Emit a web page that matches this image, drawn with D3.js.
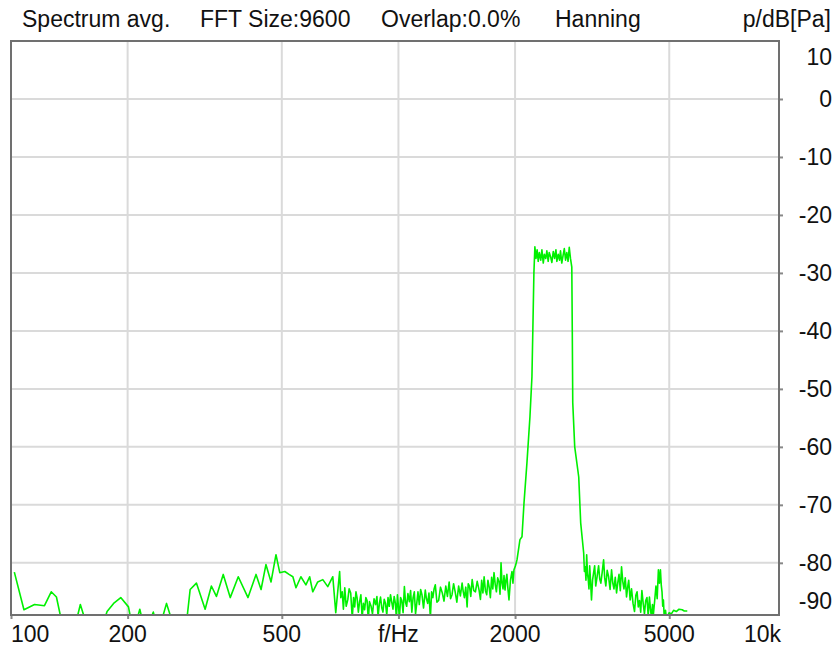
<!DOCTYPE html>
<html>
<head>
<meta charset="utf-8">
<script src="https://cdnjs.cloudflare.com/ajax/libs/d3/7.8.5/d3.min.js"></script>
<style>
	body { margin: 0; background: #fff; }
	svg { display: block; font-family: "Liberation Sans", Arial, sans-serif; }
	.grid line { stroke: #dadada; stroke-width: 2; }
	.lbl { font-size: 23px; fill: #111; }
</style>
</head>
<body>
<script>
// spectrum, [frequency in Hz, level in dB re Pa]
var lowRange = [[102, -81.6], [108, -88.1], [115, -87.2], [122, -87.4], [127, -85.0], [131, -85.9], [137, -92], [145, -92],
	[151, -87.2], [159, -92], [170, -92], [177, -88.4], [184, -87.0], [192, -86.0], [201, -87.6], [207, -92], [215, -88.0],
	[222, -92], [233, -88.5], [240, -92], [252, -87.0], [266, -92], [282, -92], [290, -84.6], [301, -83.5], [317, -88.0],
	[329, -84.0], [339, -85.8], [353, -82.0], [368, -86.0], [386, -82.4], [409, -86.0], [429, -82.0], [442, -84.6], [455, -80.3],
	[469, -83.3], [483, -78.6], [494, -81.7], [509, -81.5], [522, -82.0], [534, -82.4], [544, -84.3], [560, -82.4], [577, -83.8],
	[590, -82.4], [601, -85.0], [619, -83.3], [638, -82.9], [657, -84.1], [677, -82.4], [689, -88.6]];

var midRange = [[705, -81.5], [710, -86], [716, -85], [721, -88], [727, -84.3], [733, -87.5], [740, -86.4], [746, -84.5],
	[753, -85.2], [760, -89.5], [766, -86], [771, -87.6], [777, -85], [782, -86], [788, -88.5], [794, -86.7], [800, -85.5],
	[806, -89.5], [812, -87], [818, -88.1], [824, -86], [830, -86.5], [836, -89.8], [842, -86.7], [850, -87.5], [857, -88.8],
	[865, -86.2], [873, -87.2], [880, -85.8], [886, -89.3], [893, -87], [899, -85.9], [906, -87.8], [912, -88.5], [919, -86.3],
	[926, -87], [933, -89], [940, -86], [947, -87.5], [954, -85.5], [961, -86.8], [968, -88], [975, -85.8], [982, -87],
	[988, -89.6], [994, -85.5], [1000, -87.5], [1006, -89.5], [1013, -86], [1020, -86.5], [1028, -88.6], [1036, -84.1],
	[1043, -86.8], [1050, -87.5], [1058, -85.3], [1067, -86.7], [1075, -84.8], [1083, -88.5], [1091, -86], [1099, -85.0],
	[1107, -88.8], [1115, -87], [1123, -85], [1132, -87.2], [1141, -84.6], [1150, -85.5], [1161, -87.8], [1173, -84.7],
	[1181, -86.2], [1190, -87], [1199, -85.2], [1209, -89.5], [1218, -85], [1227, -86], [1236, -84.5], [1245, -83.8],
	[1257, -86.8], [1270, -86.5], [1284, -84.2], [1298, -85.2], [1311, -86.6], [1325, -84], [1338, -85.8], [1352, -83.3],
	[1363, -86.2], [1375, -85.5], [1388, -83.6], [1401, -85], [1415, -86.8], [1430, -84], [1445, -85.7], [1460, -83.5],
	[1470, -85], [1480, -86], [1492, -84.2], [1504, -87.6], [1514, -83.6], [1525, -84], [1537, -85.8], [1550, -82.9],
	[1565, -84.8], [1580, -85], [1597, -83.2], [1615, -84.7], [1628, -86.3], [1640, -83], [1652, -85.2], [1664, -82.4],
	[1677, -84.8], [1690, -85.5], [1702, -83], [1714, -84.1], [1727, -86], [1740, -82.5], [1752, -84.5], [1765, -81.7],
	[1778, -83.8], [1790, -85], [1804, -82.6], [1818, -83.3], [1829, -85.4], [1840, -80.0], [1851, -83.5], [1862, -84.5],
	[1873, -82.2], [1884, -84.7], [1895, -83], [1905, -82.0], [1917, -84.5], [1929, -86.4], [1946, -83], [1964, -81.5],
	[1975, -83.5], [1987, -81.2], [2005, -80.5], [2023, -79.5]];

var passBand = [[2059, -76.0], [2084, -75.5], [2109, -69.7], [2146, -62.8], [2185, -54.8], [2211, -47.9], [2223, -39.8],
	[2237, -30.0], [2250, -25.5], [2265, -27.5], [2280, -26.0], [2295, -28.0], [2310, -26.5], [2330, -27.8], [2346, -26.0],
	[2365, -28.3], [2380, -26.8], [2400, -27.5], [2416, -26.2], [2435, -28.0], [2450, -26.5], [2470, -27.2], [2489, -28.2],
	[2510, -26.3], [2530, -27.5], [2550, -26.0], [2564, -28.0], [2585, -26.8], [2605, -27.8], [2620, -26.2], [2640, -28.3],
	[2660, -27.0], [2680, -25.8], [2700, -27.8], [2720, -26.5], [2740, -28.0], [2760, -25.6], [2780, -27.5], [2802, -29.0],
	[2810, -39.8], [2818, -52.4], [2851, -60.0], [2920, -65.2], [2954, -73.1]];

var highRange = [[3007, -78.3], [3020, -81.5], [3035, -80.7], [3048, -83], [3061, -78.6], [3075, -81.8], [3090, -82.9],
	[3103, -84.5], [3116, -80.5], [3133, -83.2], [3150, -86.4], [3170, -83], [3190, -81.7], [3210, -80.5], [3230, -84],
	[3258, -82.3], [3286, -80.5], [3308, -82.8], [3330, -83.5], [3357, -81.6], [3385, -79.5], [3407, -82.6], [3430, -84],
	[3458, -81.3], [3487, -82.4], [3518, -84.6], [3549, -81.2], [3575, -83.5], [3600, -84.5], [3628, -82.5], [3656, -85.2],
	[3683, -83.4], [3710, -82], [3738, -84.8], [3766, -80.7], [3793, -83.2], [3820, -84.5], [3850, -82.6], [3879, -85.9],
	[3905, -84.2], [3930, -83], [3963, -86.4], [3996, -84.5], [4032, -87], [4068, -88.4], [4100, -85.6], [4130, -85],
	[4160, -87.6], [4190, -86.5], [4220, -88.5], [4250, -84.8], [4283, -87], [4315, -88.8], [4348, -86.5], [4380, -86],
	[4412, -89.2], [4445, -85.9], [4472, -88], [4500, -89.5], [4526, -87.2], [4552, -88.8], [4586, -86.5], [4620, -84],
	[4654, -86.2], [4688, -81.2], [4716, -83.5], [4745, -81.2], [4768, -83.8], [4790, -85], [4810, -87.5], [4830, -86.4],
	[4850, -89], [4870, -89.5], [4890, -88.2], [4917, -89.5], [5000, -88.6], [5063, -88.8], [5130, -88.2], [5215, -88.4],
	[5300, -88.0], [5400, -88.1], [5467, -88.3], [5566, -88.3]];

var freqTicks = [100, 200, 500, 1000, 2000, 5000, 10000];
var freqLabels = ['100', '200', '500', 'f/Hz', '2000', '5000', '10k'];
var levelTicks = [10, 0, -10, -20, -30, -40, -50, -60, -70, -80, -90];

var titleParts = ['Spectrum avg.', 'FFT Size:9600', 'Overlap:0.0%', 'Hanning'];
var unit = 'p/dB[Pa]';

var spectrum = lowRange.concat(midRange, passBand, highRange);

var width = 836, height = 648;
var mLeft = 11, mRight = 779, mTop = 41, mBottom = 615;

var svg = d3.select('body')
	.append('svg')
	.attr('width', width)
	.attr('height', height);

var x = d3.scaleLog().domain([100, 9600]).range([mLeft, mRight]);
var y = d3.scaleLinear().domain([-89, 10]).range([mBottom, mTop]);

var innerX = freqTicks.filter(function(d) { return x(d) > mLeft + 3 && x(d) < mRight - 3; });
var innerY = levelTicks.filter(function(d) { return y(d) > mTop + 3 && y(d) < mBottom - 3; });

// grid
var grid = svg.append('g').attr('class', 'grid');
grid.selectAll('.vx')
	.data(innerX)
	.enter()
	.append('line')
	.attr('x1', function(d) { return x(d); })
	.attr('x2', function(d) { return x(d); })
	.attr('y1', mTop)
	.attr('y2', mBottom);
grid.selectAll('.hy')
	.data(innerY)
	.enter()
	.append('line')
	.attr('x1', mLeft)
	.attr('x2', mRight)
	.attr('y1', function(d) { return y(d); })
	.attr('y2', function(d) { return y(d); });

// small ticks outside the frame
svg.append('g')
	.attr('transform', 'translate(' + mRight + ',0)')
	.call(d3.axisRight(y).tickValues(innerY).tickSize(4).tickFormat(''))
	.call(function(g) { g.select('.domain').remove(); g.selectAll('line').attr('stroke', '#888').attr('stroke-width', 2); });
svg.append('g')
	.attr('transform', 'translate(0,' + mBottom + ')')
	.call(d3.axisBottom(x).tickValues(freqTicks.filter(function(d) { return x(d) < mRight; })).tickSize(4).tickFormat(''))
	.call(function(g) { g.select('.domain').remove(); g.selectAll('line').attr('stroke', '#888').attr('stroke-width', 2); });

// spectrum
svg.append('clipPath')
	.attr('id', 'plot')
	.append('rect')
	.attr('x', mLeft)
	.attr('y', mTop)
	.attr('width', mRight - mLeft)
	.attr('height', mBottom - mTop);

var line = d3.line()
	.x(function(d) { return x(d[0]); })
	.y(function(d) { return y(d[1]); });

svg.append('path')
	.datum(spectrum)
	.attr('clip-path', 'url(#plot)')
	.attr('fill', 'none')
	.attr('stroke', '#00f000')
	.attr('stroke-width', 1.6)
	.attr('stroke-linejoin', 'round')
	.attr('d', line);

// frame
svg.append('rect')
	.attr('x', mLeft)
	.attr('y', mTop)
	.attr('width', mRight - mLeft)
	.attr('height', mBottom - mTop)
	.attr('fill', 'none')
	.attr('stroke', '#707070')
	.attr('stroke-width', 2);

// y labels, end ones kept inside
svg.selectAll('.ylab')
	.data(levelTicks)
	.enter()
	.append('text')
	.attr('class', 'lbl')
	.attr('text-anchor', 'end')
	.attr('x', 832)
	.attr('y', function(d) { return Math.min(Math.max(y(d), mTop + 16), mBottom - 14) + 8; })
	.text(function(d) { return d; });

// x labels
svg.selectAll('.xlab')
	.data(freqTicks)
	.enter()
	.append('text')
	.attr('class', 'lbl')
	.attr('text-anchor', function(d, i) { return i == 0 ? 'start' : (x(d) > mRight ? 'end' : 'middle'); })
	.attr('x', function(d) { return Math.min(x(d), mRight + 2); })
	.attr('y', 642)
	.text(function(d, i) { return freqLabels[i]; });

var titleX = [22, 200, 381, 555];
svg.selectAll('.title')
	.data(titleParts)
	.enter()
	.append('text')
	.attr('class', 'lbl')
	.attr('x', function(d, i) { return titleX[i]; })
	.attr('y', 27)
	.text(function(d) { return d; });

svg.append('text')
	.attr('class', 'lbl')
	.attr('text-anchor', 'end')
	.attr('x', 831)
	.attr('y', 27)
	.text(unit);
</script>
</body>
</html>
